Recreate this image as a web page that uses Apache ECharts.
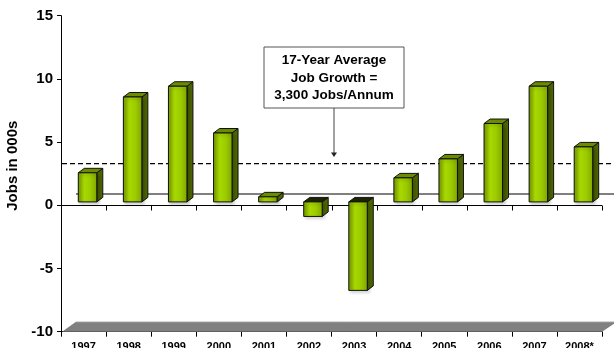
<!DOCTYPE html>
<html>
<head>
<meta charset="utf-8">
<script src="https://cdn.jsdelivr.net/npm/echarts@6/dist/echarts.min.js"></script>
<style>
  html, body { margin: 0; padding: 0; background: #fff; }
  #chart { width: 614px; height: 348px; }
</style>
</head>
<body>
<div id="chart"></div>
<script>
// Annual job growth, thousands of jobs
const categories = ['1997', '1998', '1999', '2000', '2001', '2002', '2003', '2004', '2005', '2006', '2007', '2008*'];
const jobGrowth = [2.3, 8.3, 9.15, 5.45, 0.4, -1.15, -7.0, 1.9, 3.4, 6.2, 9.15, 4.35];
const averageGrowth = [3.3];
const calloutLines = ['17-Year Average', 'Job Growth =', '3,300 Jobs/Annum'];
const yMin = -10, yMax = 15, yStep = 5;

const FONT = 'Liberation Sans, Arial, sans-serif';
const chart = echarts.init(document.getElementById('chart'), null, { renderer: 'canvas' });

// 3D look: the box depth offsets, in pixels
const WALL_DX = 15, WALL_DY = -11.5;
const BAR_DX = 4, BAR_DY = -3.4, SIDE_DX = 6, SIDE_DY = -4.5;

// floor, back-wall zero line and the front zero line with its category ticks
function renderWall(params, api) {
  const cs = params.coordSys;
  const yFloor = api.coord([0, yMin])[1];
  const yZero = Math.round(api.coord([0, 0])[1]) + 0.5;
  const band = api.size([1, 0])[0];
  const W = api.getWidth();
  const children = [
    {
      type: 'polygon',
      shape: { points: [[cs.x + 1, yFloor], [cs.x + WALL_DX, yFloor - 10], [cs.x + cs.width + WALL_DX, yFloor - 10], [cs.x + cs.width, yFloor]] },
      style: { fill: '#808080' }
    },
    {
      type: 'line',
      shape: { x1: cs.x + WALL_DX, y1: yFloor - 10, x2: cs.x + cs.width + WALL_DX, y2: yFloor - 10 },
      style: { stroke: '#d4d4d4', lineWidth: 1 }
    },
    {
      type: 'line',
      shape: { x1: cs.x + WALL_DX, y1: yZero + WALL_DY, x2: W, y2: yZero + WALL_DY },
      style: { stroke: '#000', lineWidth: 1 }
    },
    {
      type: 'line',
      shape: { x1: cs.x, y1: yZero, x2: cs.x + cs.width, y2: yZero },
      style: { stroke: '#000', lineWidth: 1.2 }
    }
  ];
  for (let i = 0; i <= categories.length; i++) {
    const x = Math.round(api.coord([Math.min(i, categories.length - 1), 0])[0] + (i < categories.length ? -band / 2 : band / 2)) + 0.5;
    children.push({ type: 'line', shape: { x1: x, y1: yZero, x2: x, y2: yZero + 5 }, style: { stroke: '#000', lineWidth: 1 } });
  }
  return { type: 'group', children };
}

function renderAverage(params, api) {
  const cs = params.coordSys;
  const y = api.coord([0, api.value(0)])[1];
  const W = api.getWidth();
  return {
    type: 'line',
    shape: { x1: cs.x + 1, y1: y, x2: W, y2: y },
    style: { stroke: '#000', lineWidth: 1.2, lineDash: [5, 3] }
  };
}

function renderCallout(params, api) {
  const y = api.coord([0, api.value(0)])[1];
  const bx = 264, by = 47, bw = 140, bh = 61;
  const cx = bx + bw / 2;
  return {
    type: 'group',
    children: [
      { type: 'rect', shape: { x: bx, y: by, width: bw, height: bh }, style: { fill: '#fff', stroke: '#555', lineWidth: 1 } },
      {
        type: 'text',
        style: {
          text: calloutLines.join('\n'), x: cx, y: by + 5, align: 'center', verticalAlign: 'top',
          fill: '#000', fontSize: 13.5, fontWeight: 'bold', fontFamily: FONT, lineHeight: 17.5
        }
      },
      { type: 'line', shape: { x1: cx, y1: by + bh, x2: cx, y2: y - 10 }, style: { stroke: '#444', lineWidth: 1 } },
      { type: 'polygon', shape: { points: [[cx - 3, y - 11], [cx + 3, y - 11], [cx, y - 6.5]] }, style: { fill: '#222' } }
    ]
  };
}

function renderBar(params, api) {
  const idx = api.value(0);
  const v = api.value(1);
  const base = api.coord([idx, 0]);
  const tip = api.coord([idx, v]);
  const band = api.size([1, 0])[0];
  const w = band * 0.41;
  const x0 = base[0] + BAR_DX - w / 2;
  const x1 = x0 + w;
  const yb = base[1] + BAR_DY;
  const yt = tip[1] + BAR_DY;
  const yTop = Math.min(yb, yt), yBot = Math.max(yb, yt);
  const negative = v < 0;
  const frontFill = {
    type: 'linear', x: 0, y: 0, x2: 1, y2: 0,
    colorStops: [
      { offset: 0, color: '#789c00' },
      { offset: 0.35, color: '#a8d800' },
      { offset: 0.65, color: '#9ccb00' },
      { offset: 1, color: '#7fa600' }
    ]
  };
  const edge = { stroke: '#111', lineWidth: 1, lineJoin: 'round' };
  return {
    type: 'group',
    children: [
      {
        type: 'polygon',
        shape: { points: [[x1, yTop], [x1 + SIDE_DX, yTop + SIDE_DY], [x1 + SIDE_DX, yBot + SIDE_DY], [x1, yBot]] },
        style: Object.assign({ fill: '#4c6500' }, edge)
      },
      {
        type: 'polygon',
        shape: { points: [[x0, yTop], [x0 + SIDE_DX, yTop + SIDE_DY], [x1 + SIDE_DX, yTop + SIDE_DY], [x1, yTop]] },
        style: Object.assign({ fill: negative ? '#1c2400' : '#6c8c00' }, edge)
      },
      {
        type: 'rect',
        shape: { x: x0, y: yTop, width: w, height: yBot - yTop },
        style: Object.assign({ fill: frontFill, shadowColor: 'rgba(0,0,0,0.22)', shadowBlur: 3, shadowOffsetX: 2, shadowOffsetY: 2 }, edge)
      }
    ]
  };
}

const axisText = { color: '#000', fontWeight: 'bold', fontFamily: FONT };

chart.setOption({
  animation: false,
  backgroundColor: '#fff',
  grid: { left: 61, right: 12, top: 15.7, bottom: 16.3, containLabel: false, outerBoundsMode: 'none' },
  xAxis: {
    type: 'category', data: categories, position: 'bottom',
    axisLine: { onZero: false, lineStyle: { color: '#000', width: 1 } },
    axisTick: { show: true, length: 5, lineStyle: { color: '#000' } },
    axisLabel: Object.assign({ fontSize: 11, margin: 10, interval: 0 }, axisText),
    splitLine: { show: false }
  },
  yAxis: {
    type: 'value', min: yMin, max: yMax, interval: yStep,
    name: 'Jobs in 000s', nameLocation: 'middle', nameGap: 33, nameRotate: 90,
    nameTextStyle: Object.assign({ fontSize: 15, padding: [0, 0, 0, 16] }, axisText),
    axisLine: { show: true, onZero: false, lineStyle: { color: '#000', width: 1 } },
    axisTick: { show: true, length: 4, lineStyle: { color: '#000' } },
    axisLabel: Object.assign({ fontSize: 15, margin: 8 }, axisText),
    splitLine: { show: false }
  },
  series: [
    { type: 'custom', name: 'wall', z: 1, renderItem: renderWall, data: [[0]], silent: true },
    { type: 'custom', name: 'average', z: 1, renderItem: renderAverage, data: averageGrowth.map(v => [v]), encode: { y: 0 }, silent: true },
    { type: 'custom', name: 'Job growth', z: 3, renderItem: renderBar, data: jobGrowth.map((v, i) => [i, v]), encode: { x: 0, y: 1 } },
    { type: 'custom', name: 'callout', z: 4, renderItem: renderCallout, data: averageGrowth.map(v => [v]), encode: { y: 0 }, silent: true }
  ]
});
</script>
</body>
</html>
